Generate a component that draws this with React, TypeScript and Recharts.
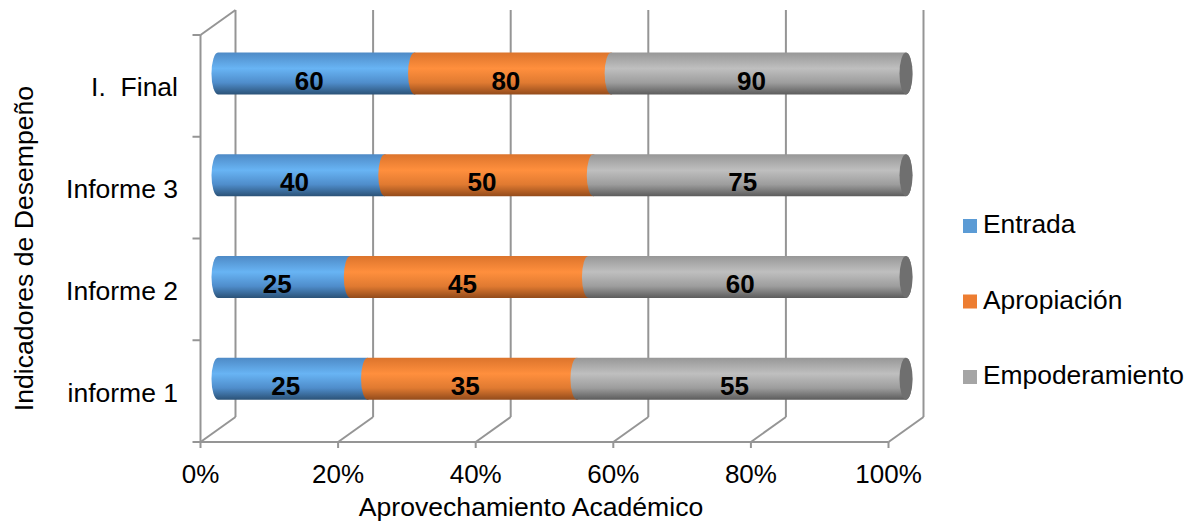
import React from 'react';
import { BarChart, Bar, XAxis, YAxis, CartesianGrid, LabelList } from 'recharts';

const categories = ['I.  Final', 'Informe 3', 'Informe 2', 'informe 1'];
const entrada = [60, 40, 25, 25];
const apropiacion = [60, 50, 45, 35];
const empoderamiento = [90, 75, 60, 55];
const entradaLabels = ['60', '40', '25', '25'];
const apropiacionLabels = ['80', '50', '45', '35'];
const empoderamientoLabels = ['90', '75', '60', '55'];
const xTicks = [0, 0.2, 0.4, 0.6, 0.8, 1];
const seriesNames = ['Entrada', 'Apropiación', 'Empoderamiento'];
const seriesKeys = ['entrada', 'apropiacion', 'empoderamiento'];
const legendColors = ['#5B9BD5', '#ED7D31', '#A5A5A5'];
const labelSets = [entradaLabels, apropiacionLabels, empoderamientoLabels];

const data = categories.map((name, i) => ({
  name,
  entrada: entrada[i],
  apropiacion: apropiacion[i],
  empoderamiento: empoderamiento[i],
}));

const FONT = '"Liberation Sans", Arial, sans-serif';
const GRID = '#959595';
const DX = 17.5;
const DY = 12.5;

const gradients = [
  [['0', '#4e8ac6'], ['0.38', '#68b4f4'], ['0.72', '#4f8dcb'], ['1', '#2b5277']],
  [['0', '#dc742c'], ['0.38', '#ff8f3d'], ['0.72', '#e07a31'], ['1', '#934b1b']],
  [['0', '#979797'], ['0.38', '#bfbfbf'], ['0.72', '#9d9d9d'], ['1', '#5c5c5c']],
];

const GridLine = (props: any) => {
  const { x1, y1, y2, index, width } = props;
  const bx = x1 + DX;
  const fx = x1 - DX;
  const items: any[] = [
    <line key="b" x1={bx} y1={y1 - DY} x2={bx} y2={y2 - DY} stroke={GRID} strokeWidth={2} />,
    <line key="d" x1={bx} y1={y2 - DY} x2={fx} y2={y2 + DY} stroke={GRID} strokeWidth={2} />,
    <line key="t" x1={fx} y1={y2 + DY} x2={fx} y2={y2 + DY + 6} stroke={GRID} strokeWidth={2} />,
  ];
  if (index === 0) {
    items.push(<line key="lf" x1={fx} y1={y1 + DY} x2={fx} y2={y2 + DY} stroke={GRID} strokeWidth={2} />);
    items.push(<line key="td" x1={bx} y1={y1 - DY} x2={fx} y2={y1 + DY} stroke={GRID} strokeWidth={2} />);
    items.push(<line key="ff" x1={fx} y1={y2 + DY} x2={fx + width} y2={y2 + DY} stroke={GRID} strokeWidth={2} />);
    const n = categories.length;
    for (let k = 0; k <= n; k++) {
      const yk = y1 + DY + (k * (y2 - y1)) / n;
      items.push(<line key={'yt' + k} x1={fx - 8} y1={yk} x2={fx} y2={yk} stroke={GRID} strokeWidth={2} />);
    }
  }
  return <g key={props.key}>{items}</g>;
};

const makeShape = (si: number) => (props: any) => {
  const { x, y, width, height } = props;
  if (width == null || height == null) return <g />;
  const rx = 6.5;
  const ry = height / 2;
  const d = `M ${x} ${y} L ${x + width} ${y} A ${rx} ${ry} 0 0 1 ${x + width} ${y + height} L ${x} ${y + height} A ${rx} ${ry} 0 0 1 ${x} ${y} Z`;
  return (
    <g>
      <path d={d} fill={`url(#cylGrad${si})`} />
      {si === 2 && <ellipse cx={x + width} cy={y + ry} rx={rx} ry={ry} fill="#6f6f6f" />}
    </g>
  );
};

const makeLabel = (si: number) => (props: any) => {
  const vb = props.viewBox || {};
  const x = props.x ?? vb.x;
  const y = props.y ?? vb.y;
  const w = props.width ?? vb.width;
  const h = props.height ?? vb.height;
  const idx = props.index;
  const txt = labelSets[si][idx];
  if (txt == null) return null;
  return (
    <text x={x + w / 2 - 7} y={y + h / 2 + 16} textAnchor="middle" fontFamily={FONT} fontSize={26} fontWeight="bold" fill="#000">
      {txt}
    </text>
  );
};

const XTick = (props: any) => {
  const { x, y, payload } = props;
  return (
    <text x={x - DX} y={y + 53.5} textAnchor="middle" fontFamily={FONT} fontSize={26} fill="#000">
      {Math.round(payload.value * 100) + '%'}
    </text>
  );
};

const YTick = (props: any) => {
  const { x, y, payload } = props;
  return (
    <text x={x - 40} y={y + 23} textAnchor="end" fontFamily={FONT} fontSize={26.5} fill="#000" style={{ whiteSpace: 'pre' }}>
      {payload.value}
    </text>
  );
};

const XTitle = () => (
  <text x={531} y={516} textAnchor="middle" fontFamily={FONT} fontSize={26.6} fill="#000">
    Aprovechamiento Académico
  </text>
);

const YTitle = () => (
  <text transform="translate(33,248.5) rotate(-90)" textAnchor="middle" fontFamily={FONT} fontSize={26.6} fill="#000">
    Indicadores de Desempeño
  </text>
);

export default function App() {
  return (
    <div style={{ position: 'absolute', left: 0, top: 0, width: 1197, height: 525, background: '#fff' }}>
      <svg width={0} height={0} style={{ position: 'absolute' }}>
        <defs>
          {gradients.map((g, i) => (
            <linearGradient key={i} id={`cylGrad${i}`} x1="0" y1="0" x2="0" y2="1">
              {g.map(([o, c]) => (
                <stop key={o} offset={o} stopColor={c} />
              ))}
            </linearGradient>
          ))}
        </defs>
      </svg>
      <BarChart
        width={1197}
        height={525}
        data={data}
        layout="vertical"
        stackOffset="expand"
        barSize={42}
        margin={{ top: 22.5, right: 291, bottom: 0, left: 0 }}
      >
        <CartesianGrid horizontal={false} vertical={GridLine} />
        <XAxis
          type="number"
          domain={[0, 1]}
          ticks={xTicks}
          height={95.5}
          tickSize={0}
          tickMargin={0}
          axisLine={false}
          tickLine={false}
          tick={XTick}
          interval={0}
          label={<XTitle />}
        />
        <YAxis
          type="category"
          dataKey="name"
          width={218}
          tickSize={0}
          tickMargin={0}
          axisLine={false}
          tickLine={false}
          tick={YTick}
          interval={0}
          label={<YTitle />}
        />
        {seriesKeys.map((k, si) => (
          <Bar key={k} dataKey={k} name={seriesNames[si]} stackId="a" fill={legendColors[si]} isAnimationActive={false} shape={makeShape(si)}>
            <LabelList dataKey={k} content={makeLabel(si)} />
          </Bar>
        ))}
      </BarChart>
      <svg width={1197} height={525} style={{ position: 'absolute', left: 0, top: 0, pointerEvents: 'none' }}>
        {seriesNames.map((n, i) => (
          <g key={n}>
            <rect x={963} y={219 + 75.5 * i} width={14} height={14} fill={legendColors[i]} />
            <text x={983} y={233 + 75.5 * i} fontFamily={FONT} fontSize={26.4} fill="#000">
              {n}
            </text>
          </g>
        ))}
      </svg>
    </div>
  );
}
